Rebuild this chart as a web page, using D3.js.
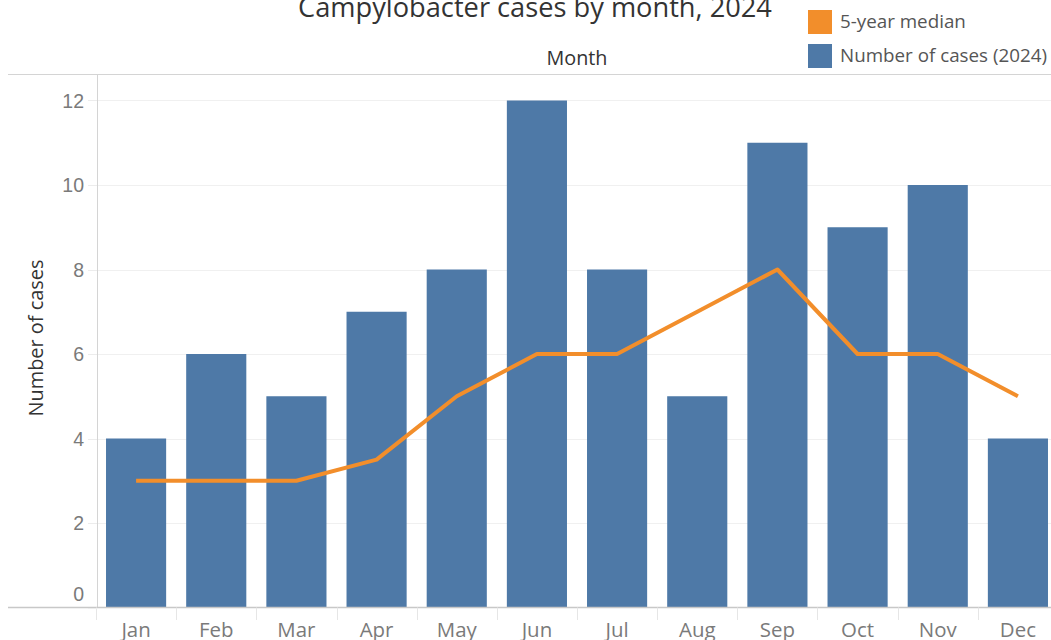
<!DOCTYPE html>
<html>
<head>
<meta charset="utf-8">
<script src="https://cdn.jsdelivr.net/npm/d3@7"></script>
<style>
  body { margin: 0; background: #fff; }
  svg { display: block; font-family: "Open Sans", Lato, sans-serif; }
</style>
</head>
<body>
<script>
// mesi
var months = ["Jan","Feb","Mar","Apr","May","Jun","Jul","Aug","Sep","Oct","Nov","Dec"];
// casi 2024
var cases2024 = [4, 6, 5, 7, 8, 12, 8, 5, 11, 9, 10, 4];
// mediana 5 anni
var median5y = [3, 3, 3, 3.5, 5, 6, 6, 7, 8, 6, 6, 5];
var yTicks = [0, 2, 4, 6, 8, 10, 12];

var W = 1051, H = 640;
var plotLeft = 97, plotRight = 1058, plotTop = 74, plotBottom = 607.5;

var svg = d3.select("body").append("svg")
  .attr("width", W).attr("height", H);

// adatta la dimensione del font ad una larghezza
function fitFont(sel, width) {
  sel.attr("font-size", 20);
  var w = sel.node().getComputedTextLength();
  sel.attr("font-size", (20 * width / w).toFixed(2));
  return sel;
}

var x = d3.scaleBand().domain(months).range([plotLeft - 1, plotRight]).paddingInner(0.25).paddingOuter(0.125);
var y = d3.scaleLinear().domain([0, 12.6]).range([plotBottom, plotBottom - 12.6 * 42.25]);

// griglia
svg.append("g").selectAll("line").data(yTicks.slice(1)).enter().append("line")
  .attr("x1", plotLeft).attr("x2", W)
  .attr("y1", function(d) { return Math.round(y(d)) + 0.5; })
  .attr("y2", function(d) { return Math.round(y(d)) + 0.5; })
  .attr("stroke", "#f0f0f0").attr("stroke-width", 1);

// barre
svg.append("g").selectAll("rect").data(cases2024).enter().append("rect")
  .attr("x", function(d, i) { return x(months[i]); })
  .attr("width", x.bandwidth())
  .attr("y", function(d) { return y(d); })
  .attr("height", function(d) { return y(0) - y(d); })
  .attr("fill", "#4e79a7");

// linea mediana
var line = d3.line()
  .x(function(d, i) { return x(months[i]) + x.bandwidth() / 2; })
  .y(function(d) { return y(d); });
svg.append("path").datum(median5y)
  .attr("d", line)
  .attr("fill", "none").attr("stroke", "#f28e2b").attr("stroke-width", 4)
  .attr("stroke-linejoin", "round").attr("stroke-linecap", "butt");

// assi e bordi
svg.append("line").attr("x1", 8).attr("x2", W).attr("y1", plotTop + 0.5).attr("y2", plotTop + 0.5)
  .attr("stroke", "#d4d4d4");
svg.append("line").attr("x1", plotLeft + 0.5).attr("x2", plotLeft + 0.5).attr("y1", plotTop).attr("y2", plotBottom)
  .attr("stroke", "#d4d4d4");
svg.append("line").attr("x1", 8).attr("x2", W).attr("y1", plotBottom).attr("y2", plotBottom)
  .attr("stroke", "#c8c8c8").attr("stroke-width", 1.5);

// separatori colonne
var seps = months.map(function(m) { return x(m) - x.step() * x.paddingInner() / 2; });
svg.append("g").selectAll("line").data(seps).enter().append("line")
  .attr("x1", function(d) { return Math.round(d) + 0.5; })
  .attr("x2", function(d) { return Math.round(d) + 0.5; })
  .attr("y1", plotBottom).attr("y2", 620)
  .attr("stroke", "#e6e6e6");

// tick asse y
var yAxis = svg.append("g");
yAxis.selectAll("line").data(yTicks).enter().append("line")
  .attr("x1", 88).attr("x2", plotLeft)
  .attr("y1", function(d) { return Math.round(y(d)) + 0.5; })
  .attr("y2", function(d) { return Math.round(y(d)) + 0.5; })
  .attr("stroke", "#ececec");
yAxis.selectAll("text").data(yTicks).enter().append("text")
  .attr("x", 84)
  .attr("y", function(d) { return d === 0 ? y(d) - 7 : y(d) + 7; })
  .attr("text-anchor", "end")
  .attr("font-family", "Liberation Sans, Arial, sans-serif")
  .attr("font-size", 19.5).attr("fill", "#7a7a7a")
  .text(function(d) { return d; });

// etichette mesi
var mLabels = svg.append("g").selectAll("text").data(months).enter().append("text")
  .attr("x", function(d) { return x(d) + x.bandwidth() / 2; })
  .attr("y", 637)
  .attr("text-anchor", "middle")
  .attr("fill", "#7a7a7a")
  .text(function(d) { return d; });
var maySize = fitFont(d3.select(mLabels.nodes()[4]), 40).attr("font-size");
mLabels.attr("font-size", maySize);

// titoli
fitFont(svg.append("text").attr("x", 535).attr("y", 17).attr("text-anchor", "middle")
  .attr("fill", "#333")
  .text("Campylobacter cases by month, 2024"), 474);
fitFont(svg.append("text").attr("x", 577).attr("y", 65).attr("text-anchor", "middle")
  .attr("fill", "#333")
  .text("Month"), 61);
fitFont(svg.append("text")
  .attr("transform", "translate(43,338) rotate(-90)")
  .attr("text-anchor", "middle")
  .attr("fill", "#333")
  .text("Number of cases"), 157);

// legenda
var legend = [
  { label: "5-year median", color: "#f28e2b" },
  { label: "Number of cases (2024)", color: "#4e79a7" }
];
var lg = svg.append("g").selectAll("g").data(legend).enter().append("g")
  .attr("transform", function(d, i) { return "translate(808," + (10 + i * 34) + ")"; });
lg.append("rect").attr("width", 24).attr("height", 24).attr("fill", function(d) { return d.color; });
var lt = lg.append("text").attr("x", 32).attr("y", 18)
  .attr("fill", "#555")
  .text(function(d) { return d.label; });
var legSize = fitFont(d3.select(lt.nodes()[1]), 207).attr("font-size");
lt.attr("font-size", legSize);
</script>
</body>
</html>
